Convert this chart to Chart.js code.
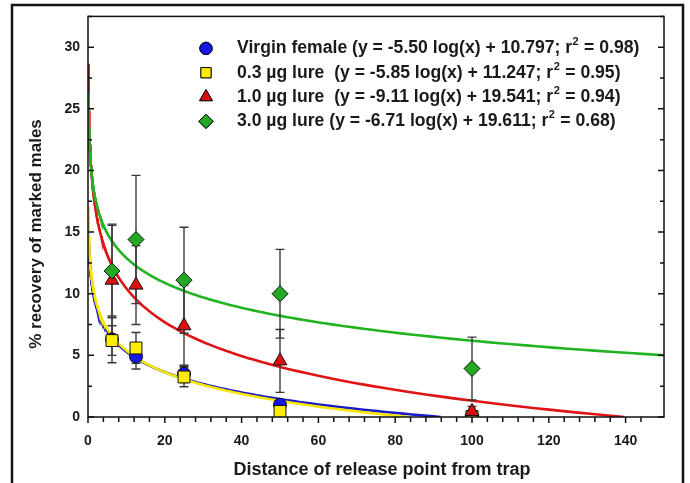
<!DOCTYPE html>
<html><head><meta charset="utf-8">
<script src="https://cdn.jsdelivr.net/npm/chart.js@4"></script>
<style>html,body{margin:0;padding:0;background:#fff}#wrap{width:690px;height:483px;position:relative}</style>
</head><body><div id="wrap"><canvas id="c" width="690" height="483"></canvas></div>
<script>
// ---------- data ----------
const distances = [6.25, 12.5, 25, 50, 100];
const virginY   = [6.3, 4.9, 3.5, 1.0, 0.0];
const virginErr = [1.9, 1.0, 0.7, 0.3, 0];
const lure03Y   = [6.2, 5.6, 3.25, 0.45, 0.05];
const lure03Err = [1.2, 1.25, 0.8, 0.3, 0];
const lure10Y   = [11.1, 10.7, 7.4, 4.55, 0.45];
const lure10Err = [4.45, 3.2, 3.3, 2.55, 0.4];
const lure30Y   = [11.85, 14.4, 11.1, 10.0, 3.93];
const lure30Err = [3.8, 5.2, 4.3, 3.6, 2.55];
const fitSlopes     = [-5.50, -5.85, -9.11, -6.71];
const fitIntercepts = [10.797, 11.247, 19.541, 19.611];
const legendLabels = [
  "Virgin female (y = -5.50 log(x) + 10.797; r\u00b2 = 0.98)",
  "0.3 \u00b5g lure  (y = -5.85 log(x) + 11.247; r\u00b2 = 0.95)",
  "1.0 \u00b5g lure  (y = -9.11 log(x) + 19.541; r\u00b2 = 0.94)",
  "3.0 \u00b5g lure (y = -6.71 log(x) + 19.611; r\u00b2 = 0.68)"
];
const xTickLabels = [0, 20, 40, 60, 80, 100, 120, 140];
const yTickLabels = [0, 5, 10, 15, 20, 25, 30];
const xTitle = "Distance of release point from trap";
const yTitle = "% recovery of marked males";

// ---------- styles ----------
const fills  = ['#1616e6', '#ffec00', '#dc0f0f', '#23a823'];
const lines  = ['#1a1ac8', '#f7e600', '#e01414', '#22b322'];
const shapes = ['circle', 'rect', 'triangle', 'rectRot'];
const radii  = [6.5, 8.4, 8, 8];
const legendRadii = [6.2, 7.2, 7.4, 7.2];
const seriesY = [virginY, lure03Y, lure10Y, lure30Y];
const seriesErr = [virginErr, lure03Err, lure10Err, lure30Err];

function fitCurve(i) {
  const a = fitSlopes[i], b = fitIntercepts[i];
  const root = Math.pow(10, -b / a);
  const xEnd = Math.min(150, root);
  const pts = [];
  const n = 240, x0 = 0.1;
  for (let k = 0; k <= n; k++) {
    const x = x0 * Math.pow(xEnd / x0, k / n);
    pts.push({x: x, y: Math.max(0, a * Math.log10(x) + b)});
  }
  return pts;
}

const datasets = [];
// point datasets: green drawn on top
const drawOrder = [3, 2, 1, 0];
drawOrder.forEach((s, k) => {
  datasets.push({
    label: legendLabels[s], type: 'scatter', order: k,
    data: distances.map((d, j) => ({x: d, y: seriesY[s][j]})),
    errs: seriesErr[s],
    pointStyle: shapes[s], pointRadius: radii[s], pointHoverRadius: radii[s],
    backgroundColor: fills[s], borderColor: '#111', borderWidth: 1,
    showLine: false, isPoints: true
  });
});
// fit curves: yellow on top of blue
[1, 0, 3, 2].forEach((s, k) => {
  datasets.push({
    label: 'fit' + s, type: 'scatter', order: 10 + k,
    data: fitCurve(s), showLine: true, pointRadius: 0, pointHoverRadius: 0,
    borderColor: lines[s], borderWidth: 2.6, fill: false, tension: 0
  });
});

const errorBars = {
  id: 'errorBars',
  beforeDatasetDraw(chart, args) {
    const ds = chart.data.datasets[args.index];
    if (!(ds.isPoints && ds.order === 3)) return;
    const ctx = chart.ctx, xs = chart.scales.x, ys = chart.scales.y;
    ctx.save();
    ctx.strokeStyle = '#3a3a3a'; ctx.lineWidth = 1.4;
    chart.data.datasets.forEach(d => {
      if (!d.isPoints) return;
      d.data.forEach((p, j) => {
        const e = d.errs[j]; if (!e) return;
        const px = xs.getPixelForValue(p.x);
        const t = ys.getPixelForValue(p.y + e), b = ys.getPixelForValue(Math.max(0, p.y - e));
        ctx.beginPath();
        ctx.moveTo(px, t); ctx.lineTo(px, b);
        ctx.moveTo(px - 4.5, t); ctx.lineTo(px + 4.5, t);
        if (p.y - e > 0) { ctx.moveTo(px - 4.5, b); ctx.lineTo(px + 4.5, b); }
        ctx.stroke();
      });
    });
    ctx.restore();
  }
};

const decorations = {
  id: 'decorations',
  afterDraw(chart) {
    const ctx = chart.ctx, a = chart.chartArea, xs = chart.scales.x, ys = chart.scales.y;
    ctx.save();
    // outer frame
    ctx.strokeStyle = '#111'; ctx.lineWidth = 2.5;
    ctx.strokeRect(12, 5, 671, 520);
    // plot frame
    ctx.lineWidth = 1.5; ctx.strokeStyle = '#111';
    ctx.strokeRect(a.left, a.top, a.right - a.left, a.bottom - a.top);
    // ticks
    ctx.beginPath();
    ys.ticks.forEach(t => {
      const p = ys.getPixelForValue(t.value);
      const L = (Math.abs(t.value % 5) < 1e-6) ? 6 : 4;
      ctx.moveTo(a.left, p); ctx.lineTo(a.left + L, p);
      ctx.moveTo(a.right, p); ctx.lineTo(a.right - L, p);
    });
    xs.ticks.forEach(t => {
      if (t.value % 4 !== 0) return;
      const p = xs.getPixelForValue(t.value);
      const L = (t.value % 20 === 0) ? 6 : 5;
      ctx.moveTo(p, a.bottom); ctx.lineTo(p, a.bottom + L);
    });
    ctx.stroke();
    // axis titles
    ctx.fillStyle = '#1a1a1a';
    ctx.textAlign = 'center'; ctx.textBaseline = 'middle';
    ctx.font = 'bold 18px "Liberation Sans", Arial, sans-serif';
    ctx.fillText(xTitle, 382, 470);
    ctx.save();
    ctx.font = 'bold 17px "Liberation Sans", Arial, sans-serif';
    ctx.translate(36, 234); ctx.rotate(-Math.PI / 2);
    ctx.fillText(yTitle, 0, 0);
    ctx.restore();
    // legend
    const markerX = 206, textX = 237;
    [0, 1, 2, 3].forEach(s => {
      const yy = a.top + 32 + s * 24.3;
      ctx.fillStyle = fills[s]; ctx.strokeStyle = '#111'; ctx.lineWidth = 1;
      Chart.helpers.drawPoint(ctx, {pointStyle: shapes[s], radius: legendRadii[s], borderWidth: 1}, markerX, yy);
      ctx.fill(); ctx.stroke();
      const parts = legendLabels[s].split('\u00b2');
      ctx.fillStyle = '#1a1a1a';
      ctx.textAlign = 'left'; ctx.textBaseline = 'middle';
      ctx.font = 'bold 17.6px "Liberation Sans", Arial, sans-serif';
      let x = textX;
      ctx.fillText(parts[0], x, yy); x += ctx.measureText(parts[0]).width + 0.5;
      ctx.font = 'bold 11px "Liberation Sans", Arial, sans-serif';
      ctx.fillText('2', x, yy - 6); x += ctx.measureText('2').width + 0.5;
      ctx.font = 'bold 17.6px "Liberation Sans", Arial, sans-serif';
      ctx.fillText(parts[1], x, yy);
    });
    ctx.restore();
  }
};

Chart.defaults.font.family = '"Liberation Sans", Arial, sans-serif';
new Chart(document.getElementById('c'), {
  type: 'scatter',
  data: {datasets},
  options: {
    responsive: false, animation: false, devicePixelRatio: 1,
    layout: {padding: {left: 0, right: 26, top: 14, bottom: 0}},
    plugins: {legend: {display: false}, tooltip: {enabled: false}},
    scales: {
      x: {
        type: 'linear', min: 0, max: 150,
        afterFit(scale) { scale.height = 66; },
        grid: {display: false, drawTicks: false},
        border: {display: false},
        ticks: {
          stepSize: 4, autoSkip: false, maxRotation: 0, padding: 16,
          color: '#1a1a1a', font: {size: 14, weight: 'bold'},
          callback: v => xTickLabels.includes(v) ? String(v) : ''
        }
      },
      y: {
        type: 'linear', min: 0, max: 32.5,
        afterFit(scale) { scale.width = 88; },
        grid: {display: false, drawTicks: false},
        border: {display: false},
        ticks: {
          stepSize: 2.5, autoSkip: false, padding: 8,
          color: '#1a1a1a', font: {size: 14, weight: 'bold'},
          callback: v => yTickLabels.includes(v) ? String(v) : ''
        }
      }
    }
  },
  plugins: [errorBars, decorations]
});
</script></body></html>
